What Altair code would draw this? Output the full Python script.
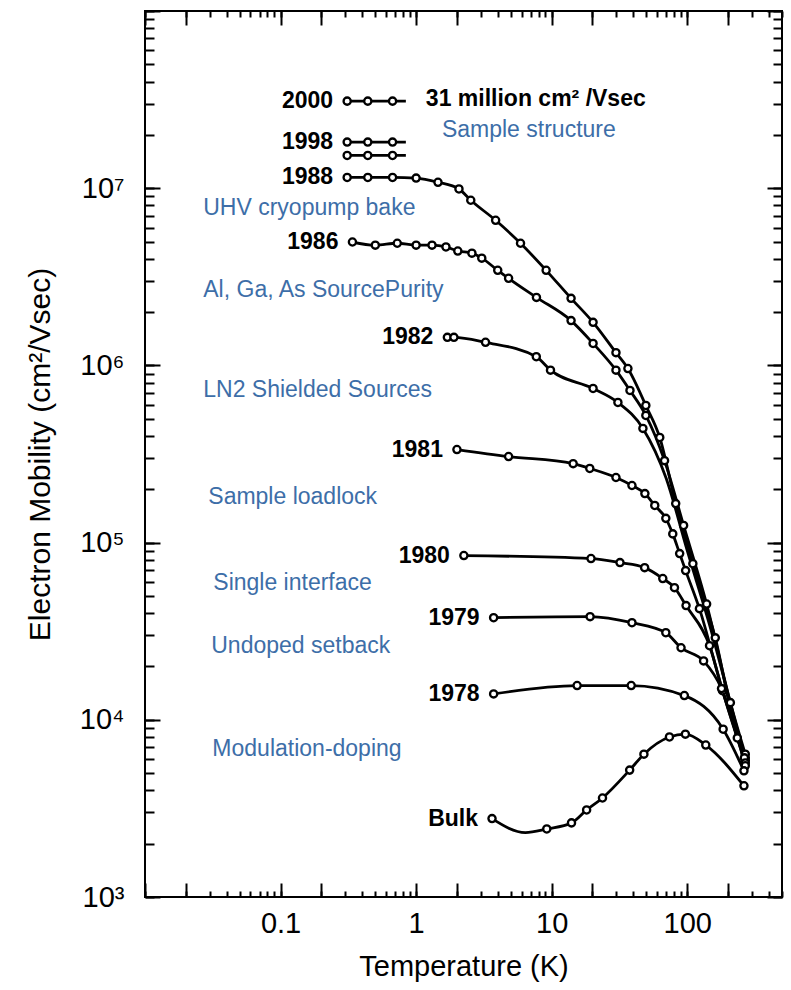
import altair as alt
import pandas as pd

FONT = "Liberation Sans"
BLUE = "#3d6ea8"

# ---------------- measured curves: temperature (K), mobility (cm^2/Vs), 1 = drawn data point ----------------
t_2000 = [0.31, 0.44, 0.67, 0.84]
mu_2000 = [3.1e7, 3.1e7, 3.1e7, 3.1e7]
pt_2000 = [1, 1, 1, 0]

t_1998a = [0.31, 0.44, 0.67, 0.84]
mu_1998a = [1.82e7, 1.82e7, 1.82e7, 1.82e7]
pt_1998a = [1, 1, 1, 0]

t_1998b = [0.31, 0.44, 0.67, 0.84]
mu_1998b = [1.53e7, 1.53e7, 1.53e7, 1.53e7]
pt_1998b = [1, 1, 1, 0]

t_1988 = [0.31, 0.44, 0.67, 1.0, 1.45, 2.07, 2.53, 3.86, 5.89, 9.1, 13.9, 20.2, 29.8, 36.5,
          49.5, 62.7, 82.2, 110, 161, 234, 268]
mu_1988 = [1.15e7, 1.15e7, 1.15e7, 1.14e7, 1.08e7, 9.9e6, 8.55e6, 6.59e6, 4.89e6, 3.44e6,
           2.39e6, 1.75e6, 1.18e6, 9.6e5, 5.94e5, 3.92e5, 1.66e5, 7.6e4, 2.9e4, 7.9e3, 6.1e3]
pt_1988 = [1] * 21

t_1986 = [0.339, 0.50, 0.726, 1.0, 1.31, 1.66, 2.03, 2.58, 3.05, 4.0, 4.81, 7.72, 13.9, 20.2,
          29.8, 37.8, 49.5, 68, 94, 139, 208, 268]
mu_1986 = [4.97e6, 4.77e6, 4.89e6, 4.77e6, 4.77e6, 4.66e6, 4.42e6, 4.30e6, 4.03e6, 3.44e6,
           3.10e6, 2.42e6, 1.79e6, 1.33e6, 9.4e5, 7.22e5, 5.22e5, 2.9e5, 1.25e5, 4.5e4, 1.25e4, 6.4e3]
pt_1986 = [1] * 22

t_1982 = [1.70, 1.90, 3.25, 7.7, 9.8, 20.2, 30.8, 47.1, 70, 100, 150, 200, 268]
mu_1982 = [1.44e6, 1.44e6, 1.35e6, 1.12e6, 9.4e5, 7.41e5, 6.18e5, 4.41e5, 2.3e5, 9.0e4, 3.2e4,
           1.4e4, 5.9e3]
pt_1982 = [1, 1, 1, 1, 1, 1, 1, 1, 0, 0, 0, 0, 1]

t_1981 = [2.0, 4.81, 14.4, 19.1, 29.8, 39.1, 48.7, 57.6, 69.5, 78.2, 87.9, 97.3, 123, 182, 264]
mu_1981 = [3.35e5, 3.06e5, 2.79e5, 2.62e5, 2.33e5, 2.10e5, 1.89e5, 1.62e5, 1.37e5, 1.12e5,
           8.67e4, 6.95e4, 4.24e4, 1.46e4, 6.1e3]
pt_1981 = [1] * 15

t_1980 = [2.25, 19.5, 31.9, 48.5, 66, 80.5, 98, 146, 185, 268]
mu_1980 = [8.45e4, 8.13e4, 7.71e4, 7.22e4, 6.27e4, 5.57e4, 4.41e4, 2.62e4, 1.4e4, 5.7e3]
pt_1980 = [1, 1, 1, 1, 1, 1, 1, 1, 0, 1]

t_1979 = [3.73, 19.2, 39.1, 69.5, 90, 132, 179, 268]
mu_1979 = [3.77e4, 3.82e4, 3.53e4, 3.10e4, 2.55e4, 2.15e4, 1.5e4, 5.5e3]
pt_1979 = [1] * 8

t_1978 = [3.73, 15.4, 38.6, 95.2, 184, 262]
mu_1978 = [1.40e4, 1.56e4, 1.56e4, 1.37e4, 8.85e3, 5.15e3]
pt_1978 = [1] * 6

t_bulk = [3.63, 6.4, 9.2, 14.0, 18.1, 23.7, 37.6, 47.9, 73.9, 96.9, 137, 262]
mu_bulk = [2.77e3, 2.31e3, 2.42e3, 2.62e3, 3.10e3, 3.62e3, 5.2e3, 6.4e3, 8.0e3, 8.3e3, 7.2e3, 4.24e3]
pt_bulk = [1, 0, 1, 1, 1, 1, 1, 1, 1, 1, 1, 1]

curves = [
    ("2000", t_2000, mu_2000, pt_2000),
    ("1998a", t_1998a, mu_1998a, pt_1998a),
    ("1998b", t_1998b, mu_1998b, pt_1998b),
    ("1988", t_1988, mu_1988, pt_1988),
    ("1986", t_1986, mu_1986, pt_1986),
    ("1982", t_1982, mu_1982, pt_1982),
    ("1981", t_1981, mu_1981, pt_1981),
    ("1980", t_1980, mu_1980, pt_1980),
    ("1979", t_1979, mu_1979, pt_1979),
    ("1978", t_1978, mu_1978, pt_1978),
    ("Bulk", t_bulk, mu_bulk, pt_bulk),
]

# year labels: text and the curve whose first point they sit beside
year_text = ["2000", "1998", "1988", "1986", "1982", "1981", "1980", "1979", "1978", "Bulk"]
year_curve = ["2000", "1998a", "1988", "1986", "1982", "1981", "1980", "1979", "1978", "Bulk"]

# blue milestone annotations (left edge temperature, mobility)
note_text = ["Sample structure", "UHV cryopump bake", "Al, Ga, As SourcePurity",
             "LN2 Shielded Sources", "Sample loadlock", "Single interface",
             "Undoped setback", "Modulation-doping"]
note_t = [1.55, 0.0269, 0.0269, 0.0269, 0.0293, 0.0319, 0.0308, 0.0314]
note_mu = [2.13e7, 7.71e6, 2.65e6, 7.22e5, 1.80e5, 5.94e4, 2.62e4, 6.85e3]

record_text = ["31 million cm\u00b2 /Vsec"]
record_t = [1.18]
record_mu = [3.2e7]

# axes
x_domain = [0.01, 500]
y_domain = [1e3, 1e8]
x_label_values = [0.1, 1, 10, 100]
x_label_text = ["0.1", "1", "10", "100"]
y_label_values = [1e3, 1e4, 1e5, 1e6, 1e7]
y_label_text = ["10\u00b3", "10\u2074", "10\u2075", "10\u2076", "10\u2077"]

x_all_ticks = [round(k * 10.0 ** n, 6) for n in range(-2, 3) for k in range(1, 10) if k * 10.0 ** n <= 500]
x_long_ticks = [round(k * 10.0 ** n, 6) for n in range(-2, 3) for k in (1, 2) if k * 10.0 ** n <= 500]
y_all_ticks = [k * 10 ** n for n in range(3, 8) for k in range(1, 10)] + [10 ** 8]
y_long_ticks = [10 ** n for n in range(3, 9)]

# ---------------- tables ----------------
rows = []
for name, ts, mus, pts in curves:
    for t, m, p in zip(ts, mus, pts):
        rows.append({"series": name, "T": t, "mu": m, "pt": p})
df = pd.DataFrame(rows)
df_pts = df[df["pt"] == 1]

first = {name: (ts[0], mus[0]) for name, ts, mus, pts in curves}
df_years = pd.DataFrame({
    "label": year_text,
    "T": [first[c][0] for c in year_curve],
    "mu": [first[c][1] for c in year_curve],
})
df_notes = pd.DataFrame({"label": note_text, "T": note_t, "mu": note_mu})
df_record = pd.DataFrame({"label": record_text, "T": record_t, "mu": record_mu})


def label_expr(values, texts):
    parts = [f"abs(datum.value - {v}) < {v * 1e-4} ? '{t}'" for v, t in zip(values, texts)]
    return " : ".join(parts) + " : ''"


x_scale = alt.Scale(type="log", domain=x_domain, nice=False)
y_scale = alt.Scale(type="log", domain=y_domain, nice=False)

X_SHORT, X_LONG = 6, 14
Y_SHORT, Y_LONG = 9, 15

common = dict(domain=False, grid=False, tickColor="black", tickWidth=2)

ax_x_bottom = alt.Axis(orient="bottom", values=x_all_ticks, tickSize=X_SHORT, offset=-X_SHORT,
                       labelExpr=label_expr(x_label_values, x_label_text), labelPadding=12,
                       labelFont=FONT, labelFontSize=29, labelColor="black", labelOverlap=False,
                       labelFlush=False, labelBound=False,
                       title="Temperature (K)", titleFont=FONT, titleFontSize=29,
                       titleFontWeight="normal", titleColor="black", titlePadding=14, **common)
ax_x_bottom_long = alt.Axis(orient="bottom", values=x_long_ticks, tickSize=X_LONG, offset=-X_LONG,
                            labels=False, title=None, **common)
ax_x_top = alt.Axis(orient="top", values=x_all_ticks, tickSize=X_SHORT, offset=-X_SHORT,
                    labels=False, title=None, **common)
ax_x_top_long = alt.Axis(orient="top", values=x_long_ticks, tickSize=X_LONG, offset=-X_LONG,
                         labels=False, title=None, **common)

ax_y_left = alt.Axis(orient="left", values=y_all_ticks, tickSize=Y_SHORT, offset=-Y_SHORT,
                     labelExpr=label_expr(y_label_values, y_label_text), labelPadding=21,
                     labelFont=FONT, labelFontSize=29, labelColor="black", labelOverlap=False,
                     labelFlush=False, labelBound=False,
                     title="Electron Mobility (cm\u00b2/Vsec)", titleFont=FONT, titleFontSize=30,
                     titleFontWeight="normal", titleColor="black", titlePadding=24, **common)
ax_y_left_long = alt.Axis(orient="left", values=y_long_ticks, tickSize=Y_LONG, offset=-Y_LONG,
                          labels=False, title=None, **common)
ax_y_right = alt.Axis(orient="right", values=y_all_ticks, tickSize=Y_SHORT, offset=-Y_SHORT,
                      labels=False, title=None, **common)
ax_y_right_long = alt.Axis(orient="right", values=y_long_ticks, tickSize=Y_LONG, offset=-Y_LONG,
                           labels=False, title=None, **common)


def xy(ax_x, ax_y):
    return dict(
        x=alt.X("T:Q", scale=x_scale, axis=ax_x),
        y=alt.Y("mu:Q", scale=y_scale, axis=ax_y),
    )


lines = alt.Chart(df).mark_line(interpolate="monotone", color="black", strokeWidth=2.8).encode(
    detail="series:N", **xy(ax_x_bottom, ax_y_left)
)

points = alt.Chart(df_pts).mark_circle(color="white", stroke="black", strokeWidth=2.3,
                                       size=52, opacity=1).encode(
    detail="series:N", **xy(ax_x_bottom_long, ax_y_left_long)
)

years = alt.Chart(df_years).mark_text(align="right", baseline="middle", dx=-14, font=FONT,
                                      fontSize=23, fontWeight="bold", color="black").encode(
    text="label:N", **xy(ax_x_top, ax_y_right)
)

notes = alt.Chart(df_notes).mark_text(align="left", baseline="middle", font=FONT,
                                      fontSize=23, color=BLUE).encode(
    text="label:N", **xy(ax_x_top_long, ax_y_right_long)
)

record = alt.Chart(df_record).mark_text(align="left", baseline="middle", font=FONT,
                                        fontSize=23, fontWeight="bold", color="black").encode(
    text="label:N", **xy(None, None)
)

chart = alt.layer(lines, points, years, notes, record).resolve_axis(
    x="independent", y="independent"
).properties(
    width=637, height=886,
    autosize=alt.AutoSizeParams(type="none"),
    padding={"left": 145, "top": 11, "right": 9, "bottom": 93},
    background="white",
).configure_view(stroke="black", strokeWidth=2)

chart.save("out.html", embed_options={"renderer": "svg", "actions": False})
